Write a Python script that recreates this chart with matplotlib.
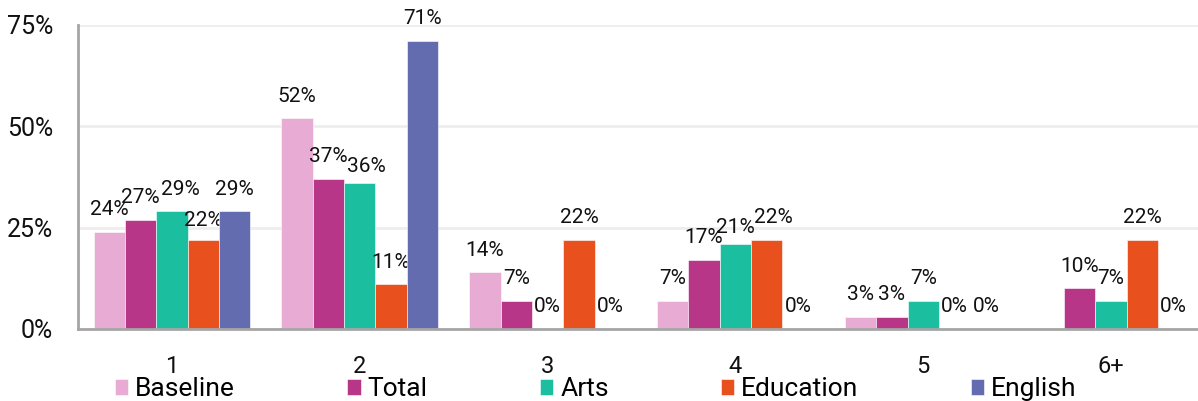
import numpy as np
import matplotlib.pyplot as plt

plt.rcParams['font.family'] = ['Roboto', 'DejaVu Sans']

categories = ['1', '2', '3', '4', '5', '6+']
series = ['Baseline', 'Total', 'Arts', 'Education', 'English']
baseline = [24, 52, 14, 7, 3, np.nan]
total = [27, 37, 7, 17, 3, 10]
arts = [29, 36, 0, 21, 7, 7]
education = [22, 11, 22, 22, 0, 22]
english = [29, 71, 0, 0, 0, 0]
colors = ['#E8ABD3', '#B83688', '#1BBE9E', '#E8501E', '#646CB0']

# labels that get pushed sideways so they don't collide with the neighbour
nudge = {('Arts', '1'): (6, 0), ('Education', '1'): (0, -2),
         ('Arts', '2'): (5, -4), ('Education', '4'): (5, 0), ('Arts', '4'): (0, -4)}

fig = plt.figure(figsize=(11.98, 4.01), dpi=100)
ax = fig.add_axes([78 / 1198, 1 - 329 / 401, 1127 / 1198, 304 / 401])

x = np.arange(len(categories))
w = 1 / 6
for i, (name, vals, c) in enumerate(zip(series, [baseline, total, arts, education, english], colors)):
    pos = x + (i - 2) * w
    ax.bar(pos, vals, width=w, color=c, edgecolor='white', linewidth=0.4, label=name, zorder=3)
    for px, v, cat in zip(pos, vals, categories):
        if np.isnan(v):
            continue
        dx, dy = nudge.get((name, cat), (0, 0))
        ax.annotate(f'{v:.0f}%', (px, v), xytext=(dx, 16 + dy), textcoords='offset points',
                    ha='center', va='center', fontsize=15, color='#111111')

ax.set_xlim(-0.5, len(categories) - 0.5)
ax.set_ylim(0, 75)
ax.set_yticks([0, 25, 50, 75])
ax.set_yticklabels(['0%', '25%', '50%', '75%'])
ax.set_xticks(x)
ax.set_xticklabels(categories)
ax.tick_params(axis='y', length=0, pad=18, labelsize=18, labelcolor='#111111')
ax.tick_params(axis='x', length=0, pad=19, labelsize=17, labelcolor='#111111')
ax.grid(axis='y', color='#EEEEEE', linewidth=2, zorder=0)
for s in ['top', 'right']:
    ax.spines[s].set_visible(False)
for s in ['left', 'bottom']:
    ax.spines[s].set_color('#A6A6A6')
    ax.spines[s].set_linewidth(2)
    ax.spines[s].set_zorder(4)

fig.legend(loc='center left', bbox_to_anchor=(115 / 1198, 1 - 389 / 401), ncol=5,
           frameon=False, fontsize=19, handlelength=0.5, handleheight=0.55,
           handletextpad=0.27, columnspacing=4.25, borderpad=0, borderaxespad=0)

fig.savefig('out.png', dpi=100)
